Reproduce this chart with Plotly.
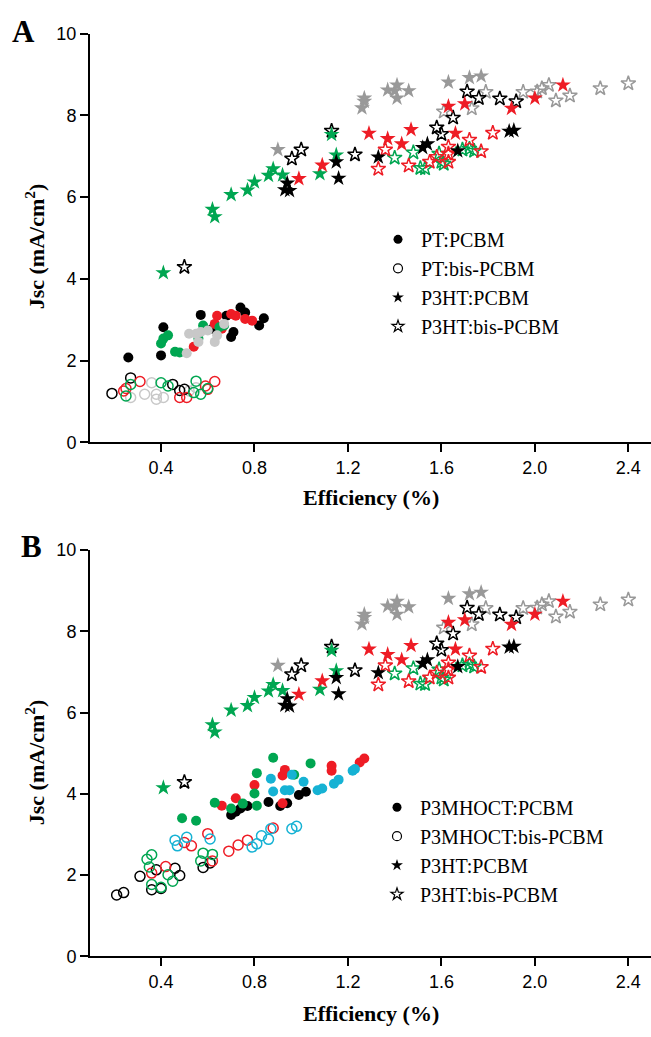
import plotly.graph_objects as go

# ---------------- DATA ----------------
# P3HT stars (identical in both panels)
p3ht_pcbm_green_x = [0.41, 0.62, 0.63, 0.70, 0.77, 0.80, 0.86, 0.88, 0.92, 1.08, 1.15, 1.13]
p3ht_pcbm_green_y = [4.15, 5.70, 5.52, 6.06, 6.17, 6.37, 6.53, 6.69, 6.54, 6.57, 7.03, 7.53]
p3ht_pcbm_black_x = [0.94, 0.93, 0.95, 1.15, 1.16, 1.33, 1.52, 1.54, 1.89, 1.91, 1.67]
p3ht_pcbm_black_y = [6.34, 6.18, 6.16, 6.86, 6.46, 6.98, 7.21, 7.30, 7.61, 7.63, 7.13]
p3ht_pcbm_red_x = [0.99, 1.09, 1.29, 1.37, 1.43, 1.47, 1.66, 1.63, 1.70, 1.90, 2.00, 2.12]
p3ht_pcbm_red_y = [6.45, 6.78, 7.56, 7.43, 7.30, 7.65, 7.56, 8.22, 8.28, 8.17, 8.42, 8.74]
p3ht_pcbm_gray_x = [0.90, 1.26, 1.27, 1.27, 1.37, 1.40, 1.41, 1.41, 1.46, 1.63, 1.72, 1.77]
p3ht_pcbm_gray_y = [7.16, 8.18, 8.34, 8.42, 8.62, 8.60, 8.74, 8.42, 8.60, 8.81, 8.92, 8.96]

p3ht_bis_black_x = [0.50, 0.96, 1.00, 1.13, 1.23, 1.71, 1.76, 1.85, 1.92, 1.65, 1.58, 1.60]
p3ht_bis_black_y = [4.29, 6.94, 7.16, 7.62, 7.04, 8.58, 8.42, 8.41, 8.34, 7.94, 7.70, 7.54]
p3ht_bis_gray_x = [1.61, 1.73, 1.79, 1.95, 2.01, 2.03, 2.06, 2.09, 2.15, 2.28, 2.40]
p3ht_bis_gray_y = [8.09, 8.17, 8.57, 8.57, 8.58, 8.66, 8.74, 8.36, 8.48, 8.66, 8.78]
p3ht_bis_red_x = [1.33, 1.36, 1.46, 1.55, 1.58, 1.63, 1.63, 1.63, 1.72, 1.77, 1.82]
p3ht_bis_red_y = [6.69, 7.16, 6.77, 6.86, 6.98, 7.23, 7.06, 6.86, 7.40, 7.12, 7.57]
p3ht_bis_green_x = [1.40, 1.48, 1.51, 1.53, 1.59, 1.60, 1.61, 1.69, 1.72, 1.74]
p3ht_bis_green_y = [6.96, 7.09, 6.71, 6.70, 7.06, 6.86, 6.81, 7.16, 7.18, 7.13]

# Panel A: PT circles
pt_pcbm_black_x = [0.26, 0.41, 0.40, 0.57, 0.74, 0.76, 0.84, 0.82, 0.71, 0.70, 0.68, 0.62]
pt_pcbm_black_y = [2.08, 2.82, 2.13, 3.12, 3.30, 3.18, 3.04, 2.86, 2.70, 2.58, 3.10, 2.78]
pt_pcbm_red_x = [0.64, 0.63, 0.70, 0.72, 0.76, 0.79, 0.66, 0.54]
pt_pcbm_red_y = [3.10, 2.90, 3.14, 3.10, 3.02, 2.98, 2.78, 2.34]
pt_pcbm_green_x = [0.41, 0.43, 0.40, 0.46, 0.48, 0.58, 0.67, 0.65, 0.56]
pt_pcbm_green_y = [2.54, 2.62, 2.42, 2.22, 2.20, 2.86, 2.86, 2.82, 2.54]
pt_pcbm_gray_x = [0.51, 0.52, 0.55, 0.57, 0.60, 0.56, 0.63, 0.64, 0.67]
pt_pcbm_gray_y = [2.18, 2.66, 2.66, 2.70, 2.74, 2.46, 2.46, 2.62, 2.90]

pt_bis_black_x = [0.19, 0.27, 0.45, 0.50, 0.48]
pt_bis_black_y = [1.20, 1.58, 1.42, 1.30, 1.27]
pt_bis_red_x = [0.24, 0.25, 0.31, 0.48, 0.51, 0.59, 0.63, 0.60]
pt_bis_red_y = [1.26, 1.32, 1.49, 1.10, 1.10, 1.38, 1.49, 1.30]
pt_bis_green_x = [0.27, 0.25, 0.40, 0.43, 0.55, 0.54, 0.57, 0.60]
pt_bis_green_y = [1.42, 1.14, 1.46, 1.38, 1.50, 1.22, 1.18, 1.32]
pt_bis_gray_x = [0.27, 0.33, 0.36, 0.38, 0.38, 0.41, 0.52, 0.55]
pt_bis_gray_y = [1.10, 1.18, 1.46, 1.18, 1.06, 1.10, 1.26, 1.34]

# Panel B: P3MHOCT circles
m_pcbm_black_x = [0.70, 0.72, 0.74, 0.77, 0.86, 0.91, 0.94, 0.99, 1.02]
m_pcbm_black_y = [3.48, 3.56, 3.64, 3.70, 3.80, 3.70, 3.77, 3.97, 4.05]
m_pcbm_red_x = [0.66, 0.72, 0.80, 0.92, 0.93, 0.92, 1.13, 1.13, 1.25, 1.27]
m_pcbm_red_y = [3.71, 3.89, 4.22, 4.45, 4.59, 3.77, 4.69, 4.57, 4.77, 4.87]
m_pcbm_green_x = [0.49, 0.55, 0.63, 0.70, 0.75, 0.81, 0.80, 0.81, 0.88, 0.97, 1.04]
m_pcbm_green_y = [3.40, 3.34, 3.78, 3.64, 3.76, 3.71, 4.01, 4.51, 4.89, 4.47, 4.75]
m_pcbm_cyan_x = [0.87, 0.88, 0.93, 0.95, 0.96, 1.01, 1.07, 1.09, 1.14, 1.16, 1.22, 1.23]
m_pcbm_cyan_y = [4.37, 4.06, 4.09, 4.09, 4.47, 4.30, 4.09, 4.13, 4.25, 4.35, 4.57, 4.61]

m_bis_black_x = [0.21, 0.24, 0.31, 0.36, 0.38, 0.40, 0.46, 0.48, 0.58, 0.61]
m_bis_black_y = [1.51, 1.57, 1.97, 1.64, 2.13, 1.67, 2.17, 1.99, 2.19, 2.30]
m_bis_red_x = [0.36, 0.42, 0.50, 0.53, 0.60, 0.62, 0.69, 0.73, 0.77, 0.88]
m_bis_red_y = [2.05, 2.21, 2.80, 2.72, 3.02, 2.35, 2.59, 2.74, 2.86, 3.16]
m_bis_green_x = [0.34, 0.36, 0.35, 0.36, 0.40, 0.43, 0.45, 0.57, 0.58, 0.62]
m_bis_green_y = [2.39, 2.50, 2.20, 1.77, 1.70, 2.01, 1.85, 2.35, 2.54, 2.51]
m_bis_cyan_x = [0.46, 0.47, 0.51, 0.61, 0.79, 0.81, 0.83, 0.86, 0.87, 0.96, 0.98]
m_bis_cyan_y = [2.86, 2.72, 2.93, 2.89, 2.69, 2.77, 2.97, 2.88, 3.14, 3.14, 3.20]

legend_a = ["PT:PCBM", "PT:bis-PCBM", "P3HT:PCBM", "P3HT:bis-PCBM"]
legend_b = ["P3MHOCT:PCBM", "P3MHOCT:bis-PCBM", "P3HT:PCBM", "P3HT:bis-PCBM"]
x_ticks = [0.4, 0.8, 1.2, 1.6, 2.0, 2.4]
x_tick_labels = ["0.4", "0.8", "1.2", "1.6", "2.0", "2.4"]
y_ticks = [0, 2, 4, 6, 8, 10]

# ---------------- STYLE ----------------
BLACK = "#000000"
RED = "#ee1c25"
GREEN = "#00a651"
GRAY_STAR = "#999999"
GRAY_CIRC = "#c8c8c8"
CYAN = "#16b2d4"

W, H = 651, 1037
fig = go.Figure()


def add(x, y, color, symbol, size, xa, ya):
    open_ = symbol.endswith("-open")
    fig.add_trace(go.Scatter(
        x=x, y=y, mode="markers", showlegend=False, hoverinfo="skip",
        xaxis=xa, yaxis=ya,
        marker=dict(symbol=symbol, size=size, color=color,
                    line=dict(width=1.5 if open_ else 0, color=color)),
    ))


def add_stars(xa, ya):
    add(p3ht_pcbm_gray_x, p3ht_pcbm_gray_y, GRAY_STAR, "star", 12, xa, ya)
    add(p3ht_bis_gray_x, p3ht_bis_gray_y, GRAY_STAR, "star-open", 11, xa, ya)
    add(p3ht_bis_green_x, p3ht_bis_green_y, GREEN, "star-open", 11, xa, ya)
    add(p3ht_bis_red_x, p3ht_bis_red_y, RED, "star-open", 11, xa, ya)
    add(p3ht_bis_black_x, p3ht_bis_black_y, BLACK, "star-open", 11, xa, ya)
    add(p3ht_pcbm_green_x, p3ht_pcbm_green_y, GREEN, "star", 12, xa, ya)
    add(p3ht_pcbm_red_x, p3ht_pcbm_red_y, RED, "star", 12, xa, ya)
    add(p3ht_pcbm_black_x, p3ht_pcbm_black_y, BLACK, "star", 12, xa, ya)


CS = 10
# Panel A
add_stars("x", "y")
add(pt_bis_gray_x, pt_bis_gray_y, GRAY_CIRC, "circle-open", CS, "x", "y")
add(pt_bis_black_x, pt_bis_black_y, BLACK, "circle-open", CS, "x", "y")
add(pt_bis_red_x, pt_bis_red_y, RED, "circle-open", CS, "x", "y")
add(pt_bis_green_x, pt_bis_green_y, GREEN, "circle-open", CS, "x", "y")
add(pt_pcbm_black_x, pt_pcbm_black_y, BLACK, "circle", CS, "x", "y")
add(pt_pcbm_red_x, pt_pcbm_red_y, RED, "circle", CS, "x", "y")
add(pt_pcbm_green_x, pt_pcbm_green_y, GREEN, "circle", CS, "x", "y")
add(pt_pcbm_gray_x, pt_pcbm_gray_y, GRAY_CIRC, "circle", CS, "x", "y")

# Panel B
add_stars("x2", "y2")
add(m_bis_black_x, m_bis_black_y, BLACK, "circle-open", CS, "x2", "y2")
add(m_bis_red_x, m_bis_red_y, RED, "circle-open", CS, "x2", "y2")
add(m_bis_green_x, m_bis_green_y, GREEN, "circle-open", CS, "x2", "y2")
add(m_bis_cyan_x, m_bis_cyan_y, CYAN, "circle-open", CS, "x2", "y2")
add(m_pcbm_black_x, m_pcbm_black_y, BLACK, "circle", CS, "x2", "y2")
add(m_pcbm_red_x, m_pcbm_red_y, RED, "circle", CS, "x2", "y2")
add(m_pcbm_green_x, m_pcbm_green_y, GREEN, "circle", CS, "x2", "y2")
add(m_pcbm_cyan_x, m_pcbm_cyan_y, CYAN, "circle", CS, "x2", "y2")

# Legend entries (black symbols)
leg_symbols = ["circle", "circle-open", "star", "star-open"]
for names, lg, xa, ya in [(legend_a, "legend", "x", "y"), (legend_b, "legend2", "x2", "y2")]:
    for name, sym in zip(names, leg_symbols):
        fig.add_trace(go.Scatter(
            x=[None], y=[None], mode="markers", name=name, legend=lg,
            xaxis=xa, yaxis=ya,
            marker=dict(symbol=sym, size=9, color=BLACK,
                        line=dict(width=1.2 if sym.endswith("open") else 0, color=BLACK)),
        ))

x0 = 90 / W
axis_common = dict(showline=True, linecolor="black", linewidth=2, ticks="outside",
                   ticklen=8, tickwidth=2, tickcolor="black", showgrid=False, zeroline=False,
                   tickfont=dict(family="Liberation Sans, Arial", size=18, color="black"))

xa_common = dict(axis_common, range=[0.096, 2.497], tickvals=x_ticks, ticktext=x_tick_labels,
                 domain=[x0, 1.0])
ya_common = dict(axis_common, range=[0, 10], tickvals=y_ticks)

leg_font = dict(family="Liberation Serif, Times New Roman", size=20, color="black")
fig.update_layout(
    width=W, height=H, margin=dict(l=0, r=0, t=0, b=0),
    paper_bgcolor="white", plot_bgcolor="white",
    xaxis=dict(xa_common, anchor="y"),
    yaxis=dict(ya_common, anchor="x", domain=[1 - 441 / H, 1 - 24 / H]),
    xaxis2=dict(xa_common, anchor="y2"),
    yaxis2=dict(ya_common, anchor="x2", domain=[1 - 965 / H, 1 - 550.7 / H]),
    legend=dict(x=375 / W, y=1 - 214 / H, xanchor="left", yanchor="top", font=leg_font,
                itemwidth=36, bgcolor="rgba(0,0,0,0)", tracegroupgap=0),
    legend2=dict(x=374 / W, y=1 - 793 / H, xanchor="left", yanchor="top", font=leg_font,
                 itemwidth=36, bgcolor="rgba(0,0,0,0)", tracegroupgap=0),
)

title_font = dict(family="Liberation Serif, Times New Roman", size=22, color="black")
annots = [
    dict(text="<b>A</b>", x=23 / W, y=1 - 22 / H, font=dict(family="Liberation Serif", size=31, color="black")),
    dict(text="<b>B</b>", x=31 / W, y=1 - 547.5 / H, font=dict(family="Liberation Serif", size=31, color="black")),
    dict(text="<b>Efficiency (%)</b>", x=371 / W, y=1 - 497 / H, font=title_font),
    dict(text="<b>Efficiency (%)</b>", x=371 / W, y=1 - 1023 / H, font=title_font),
    dict(text="<b>Jsc (mA/cm<sup>2</sup>)</b>", x=35 / W, y=1 - 241 / H, textangle=-90, font=title_font),
    dict(text="<b>Jsc (mA/cm<sup>2</sup>)</b>", x=35 / W, y=1 - 767 / H, textangle=-90, font=title_font),
]
for a in annots:
    fig.add_annotation(xref="paper", yref="paper", showarrow=False,
                       xanchor="center", yanchor="middle", **a)

fig.write_html("out.html")
